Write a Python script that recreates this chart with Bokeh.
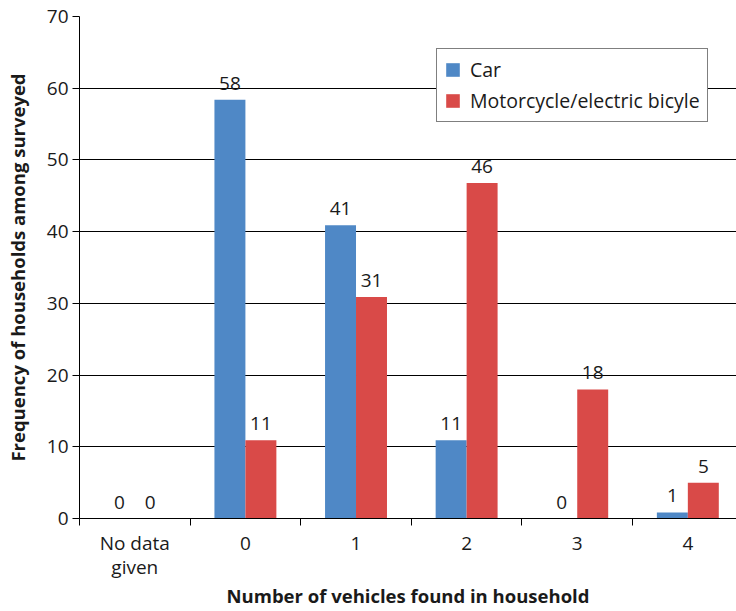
from bokeh.plotting import figure
from bokeh.models import ColumnDataSource, FixedTicker, Range1d, Legend, LegendItem
from bokeh.embed import file_html
from bokeh.resources import INLINE
from bokeh.core.properties import value
from bokeh.transform import dodge

# ---- data ----
categories = ["No data given", "0", "1", "2", "3", "4"]
tick_labels = ["No data\ngiven", "0", "1", "2", "3", "4"]
car = [0, 58.4, 40.9, 10.9, 0, 0.85]
moto = [0, 10.9, 30.9, 46.8, 18, 5]
car_labels = ["0", "58", "41", "11", "0", "1"]
moto_labels = ["0", "11", "31", "46", "18", "5"]
y_ticks = [0, 10, 20, 30, 40, 50, 60, 70]

FONT = "Open Sans"
TXT = "#1a1a1a"
BLUE = "#4F88C6"
RED = "#D94A48"

xs = list(range(len(categories)))
src = ColumnDataSource(dict(x=xs, car=car, moto=moto,
                            car_lab=car_labels, moto_lab=moto_labels))

p = figure(width=736, height=611, output_backend="svg", toolbar_location=None,
           x_range=Range1d(-0.5, 5.44), y_range=Range1d(0, 70),
           min_border_left=79, min_border_right=0, min_border_top=16,
           min_border_bottom=92)
p.outline_line_color = None
p.background_fill_color = "white"
p.border_fill_color = "white"

bw = 0.28
r1 = p.vbar(x=dodge("x", -bw / 2), top="car", width=bw, source=src,
            fill_color=BLUE, line_color=None)
r2 = p.vbar(x=dodge("x", bw / 2), top="moto", width=bw, source=src,
            fill_color=RED, line_color=None)

for fld, lab, off in (("car", "car_lab", -bw / 2), ("moto", "moto_lab", bw / 2)):
    p.text(x=dodge("x", off), y=fld, text=lab, source=src, y_offset=-10,
           text_align="center", text_baseline="bottom",
           text_font=value(FONT), text_font_size=value("19px"), text_color=TXT)

# y axis
p.yaxis.ticker = FixedTicker(ticks=y_ticks)
p.yaxis.major_tick_out = 7
p.yaxis.major_tick_in = 0
p.yaxis.minor_tick_line_color = None
p.yaxis.axis_line_color = "black"
p.yaxis.major_tick_line_color = "black"
p.yaxis.major_label_text_font = FONT
p.yaxis.major_label_text_font_size = "19px"
p.yaxis.major_label_text_color = TXT
p.yaxis.major_label_standoff = 4
p.yaxis.axis_label = "Frequency of households among surveyed"
p.yaxis.axis_label_text_font = FONT
p.yaxis.axis_label_text_font_style = "bold"
p.yaxis.axis_label_text_font_size = "18.5px"
p.yaxis.axis_label_text_color = TXT
p.yaxis.axis_label_standoff = 14

p.ygrid.ticker = FixedTicker(ticks=y_ticks)
p.ygrid.grid_line_color = "black"
p.ygrid.grid_line_width = 1
p.xgrid.grid_line_color = None

# x axis: labels at centres, tick marks at category boundaries
bounds = [i - 0.5 for i in range(len(categories) + 1)]
p.xaxis.ticker = FixedTicker(ticks=xs, minor_ticks=bounds)
p.xaxis.major_label_overrides = {float(i): t for i, t in zip(xs, tick_labels)}
p.xaxis.major_tick_line_color = None
p.xaxis.major_tick_out = 0
p.xaxis.major_tick_in = 0
p.xaxis.minor_tick_line_color = "black"
p.xaxis.minor_tick_out = 7
p.xaxis.minor_tick_in = 0
p.xaxis.axis_line_color = "black"
p.xaxis.major_label_text_font = FONT
p.xaxis.major_label_text_font_size = "19px"
p.xaxis.major_label_text_line_height = 0.95
p.xaxis.major_label_text_color = TXT
p.xaxis.major_label_standoff = 4
p.xaxis.axis_label = "Number of vehicles found in household"
p.xaxis.axis_label_text_font = FONT
p.xaxis.axis_label_text_font_style = "bold"
p.xaxis.axis_label_text_font_size = "18.5px"
p.xaxis.axis_label_text_color = TXT
p.xaxis.axis_label_standoff = 0

legend = Legend(items=[LegendItem(label="Car", renderers=[r1]),
                       LegendItem(label="Motorcycle/electric bicyle", renderers=[r2])],
                location=(357, 396))
legend.border_line_color = "black"
legend.border_line_width = 1
legend.background_fill_color = "white"
legend.background_fill_alpha = 1
legend.label_text_font = FONT
legend.label_text_font_size = "19.5px"
legend.label_text_color = TXT
legend.glyph_width = 17
legend.glyph_height = 17
legend.label_standoff = 9
legend.padding = 7
legend.spacing = 4
legend.margin = 0
legend.label_height = 20
p.add_layout(legend)

open("out.html", "w").write(file_html(p, INLINE))
